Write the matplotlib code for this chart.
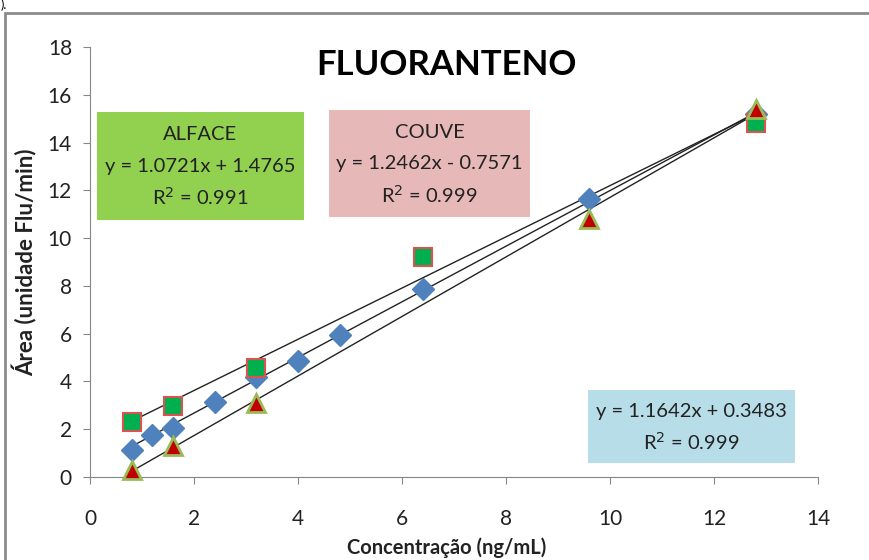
import matplotlib.pyplot as plt
import numpy as np
from matplotlib.patches import Rectangle

plt.rcParams['font.family'] = ['Lato', 'DejaVu Sans']

# padrao (losangos azuis)
x_pad = [0.8, 1.2, 1.6, 2.4, 3.2, 4.0, 4.8, 6.4, 9.6, 12.8]
y_pad = [1.15, 1.76, 2.05, 3.16, 4.18, 4.85, 5.94, 7.87, 11.65, 15.2]
# alface (quadrados verdes)
x_alf = [0.8, 1.6, 3.2, 6.4, 12.8]
y_alf = [2.32, 2.97, 4.58, 9.2, 14.8]
# couve (triangulos vermelhos)
x_cou = [0.8, 1.6, 3.2, 9.6, 12.8]
y_cou = [0.3, 1.3, 3.1, 10.8, 15.42]

fits = [(1.1642, 0.3483), (1.0721, 1.4765), (1.2462, -0.7571)]

W, H = 870, 560
fig = plt.figure(figsize=(8.7, 5.6), dpi=100)

def fx(px):
    return px / W

def fy(py):
    return 1 - py / H

# moldura externa
fig.patches.append(Rectangle((fx(5), fy(600)), 2, fy(13) - fy(600), transform=fig.transFigure,
                             fill=False, ec='#8c8c8c', lw=2))
fig.text(fx(1), fy(11), ').', fontsize=9, va='bottom', ha='left')

ax = fig.add_axes([fx(90), fy(477), fx(818) - fx(90), fy(47) - fy(477)])
ax.set_xlim(0, 14)
ax.set_ylim(0, 18)
ax.set_xticks(range(0, 15, 2))
ax.set_yticks(range(0, 19, 2))
for s in ['top', 'right']:
    ax.spines[s].set_visible(False)
for s in ['left', 'bottom']:
    ax.spines[s].set_color('#868686')
ax.tick_params(colors='#868686', labelcolor='#222222', labelsize=15, length=5)
ax.tick_params(axis='x', pad=18)
ax.tick_params(axis='y', pad=8)

xs = np.array([0.8, 12.8])
for a, b in fits:
    ax.plot(xs, a * xs + b, color='#222222', lw=1, zorder=2)

ax.plot(x_pad, y_pad, 'D', ms=11, color='#4F81BD', mec='#4F81BD', zorder=3, clip_on=False)
ax.plot(x_alf, y_alf, 's', ms=13, color='#00B050', mec='#D9534F', mew=1.5, zorder=4, clip_on=False)
ax.plot(x_cou, y_cou, '^', ms=13, color='#C00000', mec='#9BBB59', mew=2, zorder=5, clip_on=False)

ax.set_xlabel('Concentração (ng/mL)', fontsize=14.5, fontweight='bold', color='#222222')
ax.set_ylabel('Área (unidade Flu/min)', fontsize=16, fontweight='bold', color='#222222')
ax.xaxis.set_label_coords(fx(447) / (fx(818) - fx(90)) - fx(90) / (fx(818) - fx(90)), -(548 - 477) / 430)
ax.yaxis.set_label_coords(-(90 - 25) / 728, 0.5)
ax.xaxis.label.set_va('center')
ax.yaxis.label.set_va('center')

fig.text(fx(447), fy(65), 'FLUORANTENO', fontsize=25, fontweight='bold', ha='center', va='center')

boxes = [
    (97, 112, 304, 220, '#92D050', ['ALFACE', 'y = 1.0721x + 1.4765', 'R$^2$ = 0.991']),
    (329, 110, 530, 217, '#E6B9B8', ['COUVE', 'y = 1.2462x - 0.7571', 'R$^2$ = 0.999']),
    (588, 390, 795, 463, '#B7DEE8', ['y = 1.1642x + 0.3483', 'R$^2$ = 0.999']),
]
for x0, y0, x1, y1, c, lines in boxes:
    fig.patches.append(Rectangle((fx(x0), fy(y1)), fx(x1) - fx(x0), fy(y0) - fy(y1),
                                 transform=fig.transFigure, fc=c, ec='none', zorder=1))
    cy = (y0 + y1) / 2
    n = len(lines)
    for i, t in enumerate(lines):
        py = cy + (i - (n - 1) / 2) * 31
        fig.text(fx((x0 + x1) / 2), fy(py), t, fontsize=14.5, ha='center', va='center', color='#222222')

fig.savefig('out.png', dpi=100)
